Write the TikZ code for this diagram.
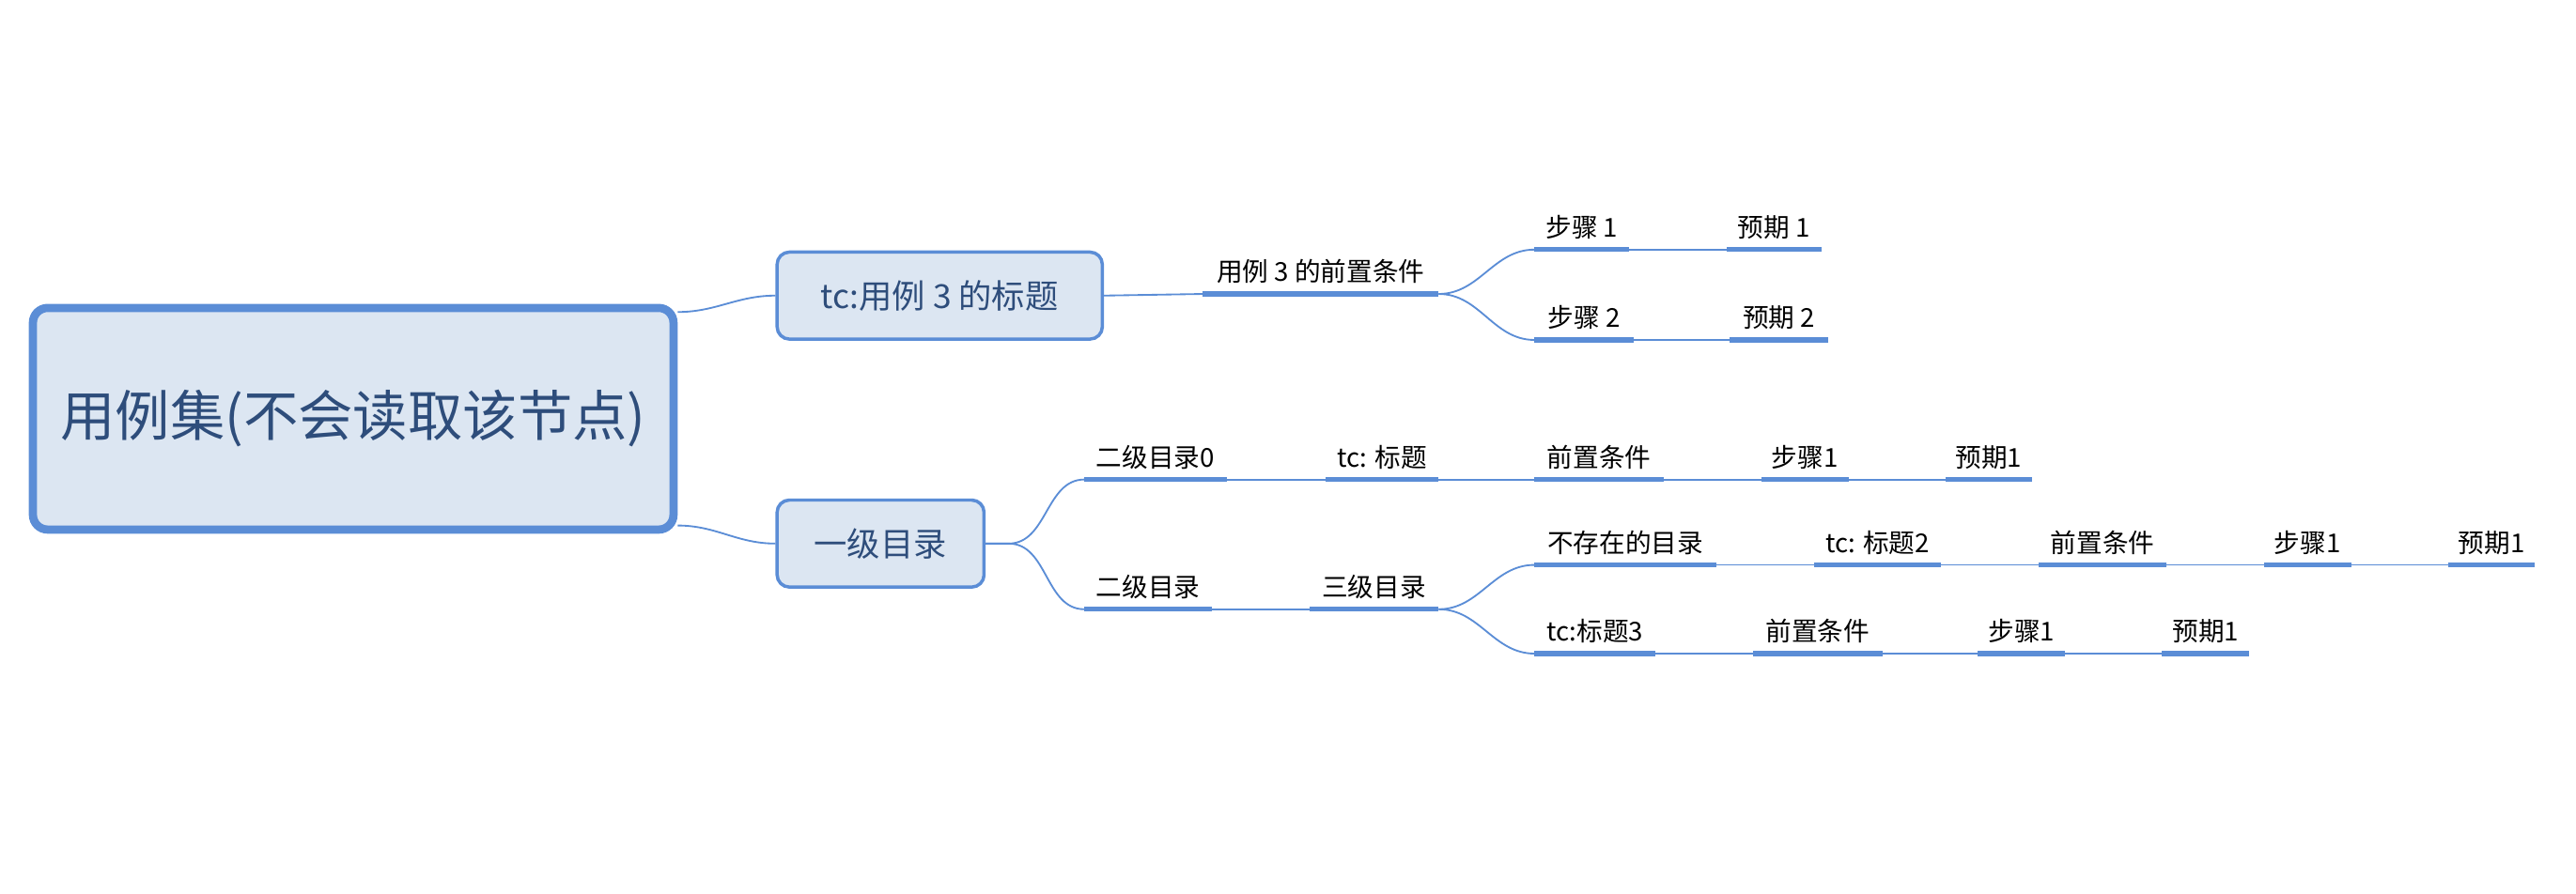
\documentclass[tikz,border=0pt]{standalone}
\usepackage{fontspec}
\setmainfont{Noto Sans CJK SC}
\usepackage{tikz}
\definecolor{topicblue}{HTML}{5B8DD6}
\definecolor{topicfill}{HTML}{DCE6F2}
\definecolor{topictext}{HTML}{2E4D7B}
\tikzstyle{central} = [rectangle, rounded corners=0.18cm, draw=topicblue, line width=0.1cm, fill=topicfill, minimum width=7.8cm, minimum height=2.7cm, text width=7.2cm, align=center, text=topictext, font=\fontsize{19}{30}\selectfont]
\tikzstyle{main} = [rectangle, rounded corners=0.15cm, draw=topicblue, line width=0.04cm, fill=topicfill, minimum height=1.06cm, text=topictext, font=\fontsize{11.5}{14}\selectfont]
\tikzstyle{sub} = [anchor=south west, inner xsep=0.12cm, inner ysep=0.12cm, font=\fontsize{9}{11}\selectfont, text=black]
\tikzstyle{link} = [draw=topicblue, line width=0.6pt]
\tikzstyle{bar} = [draw=topicblue, line width=0.06cm]

\begin{document}
\begin{tikzpicture}[x=0.02cm, y=-0.02cm]
            \useasboundingbox (0,0) rectangle (1568,544);
            \node [central] at (215,255) (root) {用例集(不会读取该节点)};
            \node [main, minimum width=3.96cm] at (572,180) (tcA) {tc:用例 3 的标题};
            \node [main, minimum width=2.52cm] at (536,331) (lvOne) {一级目录};

            \node [sub, minimum width=2.86cm] at (732,179) (preA) {用例 3 的前置条件};
            \node [sub, minimum width=1.14cm] at (934,152) (stepA) {步骤 1};
            \node [sub, minimum width=1.14cm] at (1051,152) (expA) {预期 1};
            \node [sub, minimum width=1.2cm] at (934,207) (stepB) {步骤 2};
            \node [sub, minimum width=1.18cm] at (1053,207) (expB) {预期 2};

            \node [sub, minimum width=1.72cm] at (660,292) (secZero) {二级目录0};
            \node [sub, minimum width=1.36cm] at (807,292) (tcOne) {tc: 标题};
            \node [sub, minimum width=1.56cm] at (934,292) (preOne) {前置条件};
            \node [sub, minimum width=1.04cm] at (1072,292) (stepOne) {步骤1};
            \node [sub, minimum width=1.04cm] at (1184,292) (expOne) {预期1};

            \node [sub, minimum width=1.54cm] at (660,371) (secOne) {二级目录};
            \node [sub, minimum width=1.56cm] at (797,371) (third) {三级目录};
            \node [sub, minimum width=2.2cm] at (934,344) (missing) {不存在的目录};
            \node [sub, minimum width=1.54cm] at (1104,344) (tcTwo) {tc: 标题2};
            \node [sub, minimum width=1.54cm] at (1241,344) (preTwo) {前置条件};
            \node [sub, minimum width=1.04cm] at (1378,344) (stepTwo) {步骤1};
            \node [sub, minimum width=1.04cm] at (1490,344) (expTwo) {预期1};
            \node [sub, minimum width=1.46cm] at (934,398) (tcThree) {tc:标题3};
            \node [sub, minimum width=1.56cm] at (1067,398) (preThree) {前置条件};
            \node [sub, minimum width=1.04cm] at (1204,398) (stepThree) {步骤1};
            \node [sub, minimum width=1.04cm] at (1316,398) (expThree) {预期1};

            % underlines
            \foreach \n in {preA,stepA,expA,stepB,expB,secZero,tcOne,preOne,stepOne,expOne,secOne,third,missing,tcTwo,preTwo,stepTwo,expTwo,tcThree,preThree,stepThree,expThree}
                \draw [bar] (\n.south west) -- (\n.south east);

            \draw [link] (root.east |- 0,190) to[out=0,in=180] (tcA.west);
            \draw [link] (root.east |- 0,320) to[out=0,in=180] (lvOne.west);
            \draw [link] (tcA.east) -- (preA.south west);
            \draw [link] (preA.south east) to[out=0,in=180] (stepA.south west);
            \draw [link] (preA.south east) to[out=0,in=180] (stepB.south west);
            \draw [link] (stepA.south east) -- (expA.south west);
            \draw [link] (stepB.south east) -- (expB.south west);
            \draw [link] (lvOne.east) -- ++(14,0) to[out=0,in=180] (secZero.south west);
            \draw [link] (lvOne.east) -- ++(14,0) to[out=0,in=180] (secOne.south west);
            \draw [link] (secZero.south east) -- (tcOne.south west);
            \draw [link] (tcOne.south east) -- (preOne.south west);
            \draw [link] (preOne.south east) -- (stepOne.south west);
            \draw [link] (stepOne.south east) -- (expOne.south west);
            \draw [link] (secOne.south east) -- (third.south west);
            \draw [link] (third.south east) to[out=0,in=180] (missing.south west);
            \draw [link] (third.south east) to[out=0,in=180] (tcThree.south west);
            \draw [link] (missing.south east) -- (tcTwo.south west);
            \draw [link] (tcTwo.south east) -- (preTwo.south west);
            \draw [link] (preTwo.south east) -- (stepTwo.south west);
            \draw [link] (stepTwo.south east) -- (expTwo.south west);
            \draw [link] (tcThree.south east) -- (preThree.south west);
            \draw [link] (preThree.south east) -- (stepThree.south west);
            \draw [link] (stepThree.south east) -- (expThree.south west);
\end{tikzpicture}
\end{document}
